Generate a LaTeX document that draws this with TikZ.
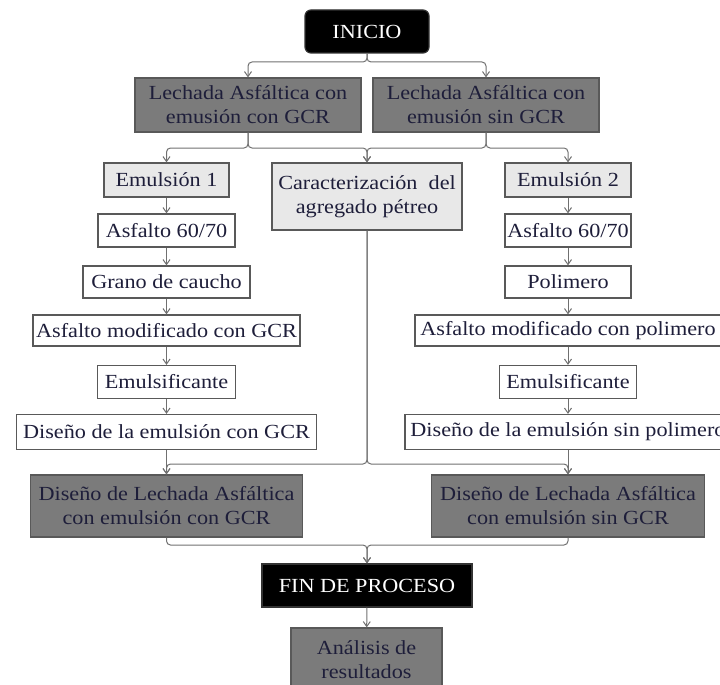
\documentclass[tikz,border=0pt]{standalone}
\usepackage{fontspec}
\setmainfont{Liberation Serif}[FakeStretch=1.11]
\usetikzlibrary{arrows.meta}
\definecolor{boxdark}{HTML}{7B7B7B}
\definecolor{boxlight}{HTML}{E8E8E8}
\definecolor{txtblue}{HTML}{1E1E3A}
\definecolor{linegray}{HTML}{707070}
\begin{document}
\begin{tikzpicture}[x=1pt,y=-1pt,
    font=\fontsize{20}{24}\selectfont,
    box/.style={draw=black!65, line width=1.2pt, text=txtblue, inner sep=1pt, align=center},
    darkbox/.style={box, fill=boxdark},
    lightbox/.style={box, fill=boxlight},
    plainbox/.style={box, fill=white},
    blackbox/.style={draw=black!80, fill=black, text=white, line width=1.2pt, inner sep=1pt},
    conn/.style={draw=linegray, line width=1pt, -{Straight Barb[length=5pt,width=7pt]}, rounded corners=4pt}]
\useasboundingbox (0,0) rectangle (720,685);

% Start
\node[blackbox, rounded corners=6pt, minimum width=124pt, minimum height=43pt] (inicio) at (367,31.5) {INICIO};

% Slurry types
\node[darkbox, minimum width=226pt, minimum height=54pt] (lecA) at (248,105) {Lechada Asfáltica con\\emusión con GCR};
\node[darkbox, minimum width=226pt, minimum height=54pt] (lecB) at (486,105) {Lechada Asfáltica con\\emusión sin GCR};

% Second level
\node[lightbox, minimum width=125pt, minimum height=34pt] (emu1) at (166.5,180) {Emulsión 1};
\node[lightbox, minimum width=190pt, minimum height=67pt] (carac) at (367,196.5) {Caracterización\ \ del\\agregado pétreo};
\node[lightbox, minimum width=126pt, minimum height=34pt] (emu2) at (568,180) {Emulsión 2};

% Left column
\node[plainbox, minimum width=137pt, minimum height=33pt] (asfA) at (166.5,230.5) {Asfalto 60/70};
\node[plainbox, minimum width=167pt, minimum height=32pt] (grano) at (166.5,282) {Grano de caucho};
\node[plainbox, minimum width=267pt, minimum height=31pt] (modA) at (166.5,330.5) {Asfalto modificado con GCR};
\node[plainbox, minimum width=138pt, minimum height=33pt] (emulsA) at (166.5,382) {Emulsificante};
\node[plainbox, minimum width=300pt, minimum height=35pt] (disA) at (166.5,432) {Diseño de la emulsión con GCR};

% Right column
\node[plainbox, minimum width=126pt, minimum height=33pt] (asfB) at (568,230.5) {Asfalto 60/70};
\node[plainbox, minimum width=126pt, minimum height=32pt] (polim) at (568,282) {Polimero};
\node[plainbox, minimum width=306pt, minimum height=31pt] (modB) at (568,330.5) {Asfalto modificado con polimero};
\node[plainbox, minimum width=137pt, minimum height=33pt] (emulsB) at (568,382) {Emulsificante};
\node[plainbox, minimum width=326pt, minimum height=35pt] (disB) at (568,432) {Diseño de la emulsión sin polimero};

% Slurry design
\node[darkbox, minimum width=272pt, minimum height=62pt] (lechDisA) at (166.5,506) {Diseño de Lechada Asfáltica\\con emulsión con GCR};
\node[darkbox, minimum width=273pt, minimum height=62pt] (lechDisB) at (568,506) {Diseño de Lechada Asfáltica\\con emulsión sin GCR};

% End
\node[blackbox, minimum width=210pt, minimum height=43pt] (fin) at (367,585.5) {FIN DE PROCESO};
\node[darkbox, minimum width=151pt, minimum height=63pt] (anal) at (366.5,659.5) {Análisis de\\resultados};

% Junctions
\coordinate (j1) at (367,62);
\coordinate (j2a) at (248,148);
\coordinate (j2b) at (486,148);
\coordinate (j3) at (367,464);
\coordinate (j4) at (367,545);

% Arrows
\draw[conn] (inicio.south) -- (j1) -| (lecA.north);
\draw[conn] (inicio.south) -- (j1) -| (lecB.north);
\draw[conn] (lecA.south) -- (j2a) -| (emu1.north);
\draw[conn] (lecA.south) -- (j2a) -| (carac.north);
\draw[conn] (lecB.south) -- (j2b) -| (carac.north);
\draw[conn] (lecB.south) -- (j2b) -| (emu2.north);
\foreach \a/\b in {emu1/asfA,asfA/grano,grano/modA,modA/emulsA,emulsA/disA,disA/lechDisA,
                   emu2/asfB,asfB/polim,polim/modB,modB/emulsB,emulsB/disB,disB/lechDisB}
    \draw[conn] (\a) -- (\b);
\draw[conn] (carac.south) -- (j3) -| (lechDisA.north);
\draw[conn] (carac.south) -- (j3) -| (lechDisB.north);
\draw[conn] (lechDisA.south) |- (j4) -- (fin.north);
\draw[conn] (lechDisB.south) |- (j4) -- (fin.north);
\draw[conn] (fin) -- (anal);

\end{tikzpicture}
\end{document}
